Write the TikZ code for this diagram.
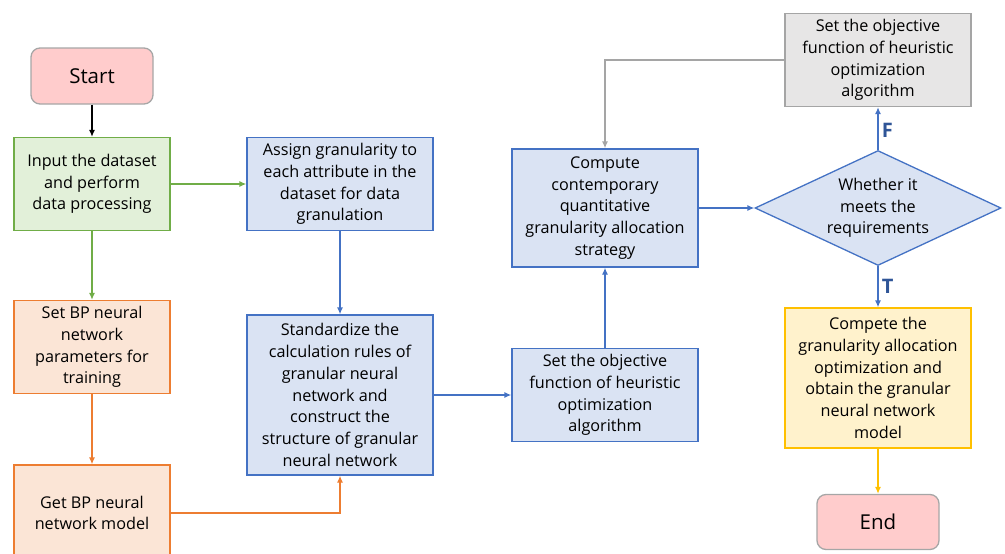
\documentclass[tikz,border=0pt]{standalone}
\usepackage{fontspec}
\setmainfont{Open Sans}
\usetikzlibrary{shapes.geometric,arrows.meta}

\definecolor{pinkfill}{HTML}{FFCCCC}
\definecolor{pinkline}{HTML}{A6A6A6}
\definecolor{greenfill}{HTML}{E2F0D9}
\definecolor{greenline}{HTML}{70AD47}
\definecolor{orangefill}{HTML}{FBE5D6}
\definecolor{orangeline}{HTML}{ED7D31}
\definecolor{bluefill}{HTML}{DAE3F3}
\definecolor{blueline}{HTML}{4472C4}
\definecolor{grayfill}{HTML}{E7E6E6}
\definecolor{grayline}{HTML}{A5A5A5}
\definecolor{yellowfill}{HTML}{FFF2CC}
\definecolor{yellowline}{HTML}{FFC000}
\definecolor{labelblue}{HTML}{2F5597}

\begin{document}
\begin{tikzpicture}[>={Latex[length=7pt,width=6pt]}, line width=1.3pt,
  main/.style = {draw, line width=1.3pt, align=center, inner sep=2pt,
    font=\fontsize{16.2}{21.7}\selectfont, minimum width=186pt, minimum height=93pt},
  term/.style = {main, rounded corners=9pt, fill=pinkfill, draw=pinkline,
    minimum width=122pt, minimum height=56pt, font=\fontsize{20.5}{24}\selectfont},
  greenbox/.style = {main, fill=greenfill, draw=greenline, minimum width=156pt},
  orangebox/.style = {main, fill=orangefill, draw=orangeline, minimum width=156pt},
  bluebox/.style = {main, fill=bluefill, draw=blueline},
  graybox/.style = {main, fill=grayfill, draw=grayline},
  yellowbox/.style = {main, fill=yellowfill, draw=yellowline},
  decision/.style = {main, diamond, fill=bluefill, draw=blueline, inner sep=0pt,
    minimum width=246pt, minimum height=115pt, aspect=2.14},
  flag/.style = {font=\fontsize{20}{22}\selectfont\bfseries, text=labelblue}]
  \useasboundingbox (0,0) rectangle (1005pt,-554pt);
  \node[term] (1) at (92pt,-76pt) {Start};
  \node[greenbox] (2) [below of=1, node distance=108pt] {Input the dataset\\and perform\\data processing};
  \node[orangebox] (3) [below of=2, node distance=163pt] {Set BP neural\\network\\parameters for\\training};
  \node[orangebox, minimum height=96pt] (4) [below of=3, node distance=166pt] {Get BP neural\\network model};
  \node[bluebox] (5) [right of=2, node distance=248pt] {Assign granularity to\\each attribute in the\\dataset for data\\granulation};
  \node[bluebox, minimum height=160pt] (6) [below of=5, node distance=211pt] {Standardize the\\calculation rules of\\granular neural\\network and\\construct the\\structure of granular\\neural network};
  \node[bluebox] (7) [right of=6, node distance=265pt] {Set the objective\\function of heuristic\\optimization\\algorithm};
  \node[bluebox, minimum height=118pt] (8) [above of=7, node distance=187pt] {Compute\\contemporary\\quantitative\\granularity allocation\\strategy};
  \node[decision] (9) [right of=8, node distance=273pt] {Whether it\\meets the\\requirements};
  \node[graybox] (10) [above of=9, node distance=148pt] {Set the objective\\function of heuristic\\optimization\\algorithm};
  \node[yellowbox, minimum height=140pt] (11) [below of=9, node distance=170pt] {Compete the\\granularity allocation\\optimization and\\obtain the granular\\neural network\\model};
  \node[term, minimum height=55pt] (12) [below of=11, node distance=144pt] {End};
  \draw[->, black] (1) -- (2);
  \draw[->, greenline] (2) -- (5);
  \draw[->, greenline] (2) -- (3);
  \draw[->, orangeline] (3) -- (4);
  \draw[->, orangeline] (4.east) -| (6.south);
  \draw[->, blueline] (5) -- (6);
  \draw[->, blueline] (6) -- (7);
  \draw[->, blueline] (7) -- (8);
  \draw[->, blueline] (8) -- (9);
  \draw[->, blueline] (9) -- node[flag, right, pos=0.45] {F} (10);
  \draw[->, blueline] (9) -- node[flag, right, pos=0.5] {T} (11);
  \draw[->, grayline] (10.west) -| (8.north);
  \draw[->, yellowline] (11) -- (12);
\end{tikzpicture}
\end{document}
